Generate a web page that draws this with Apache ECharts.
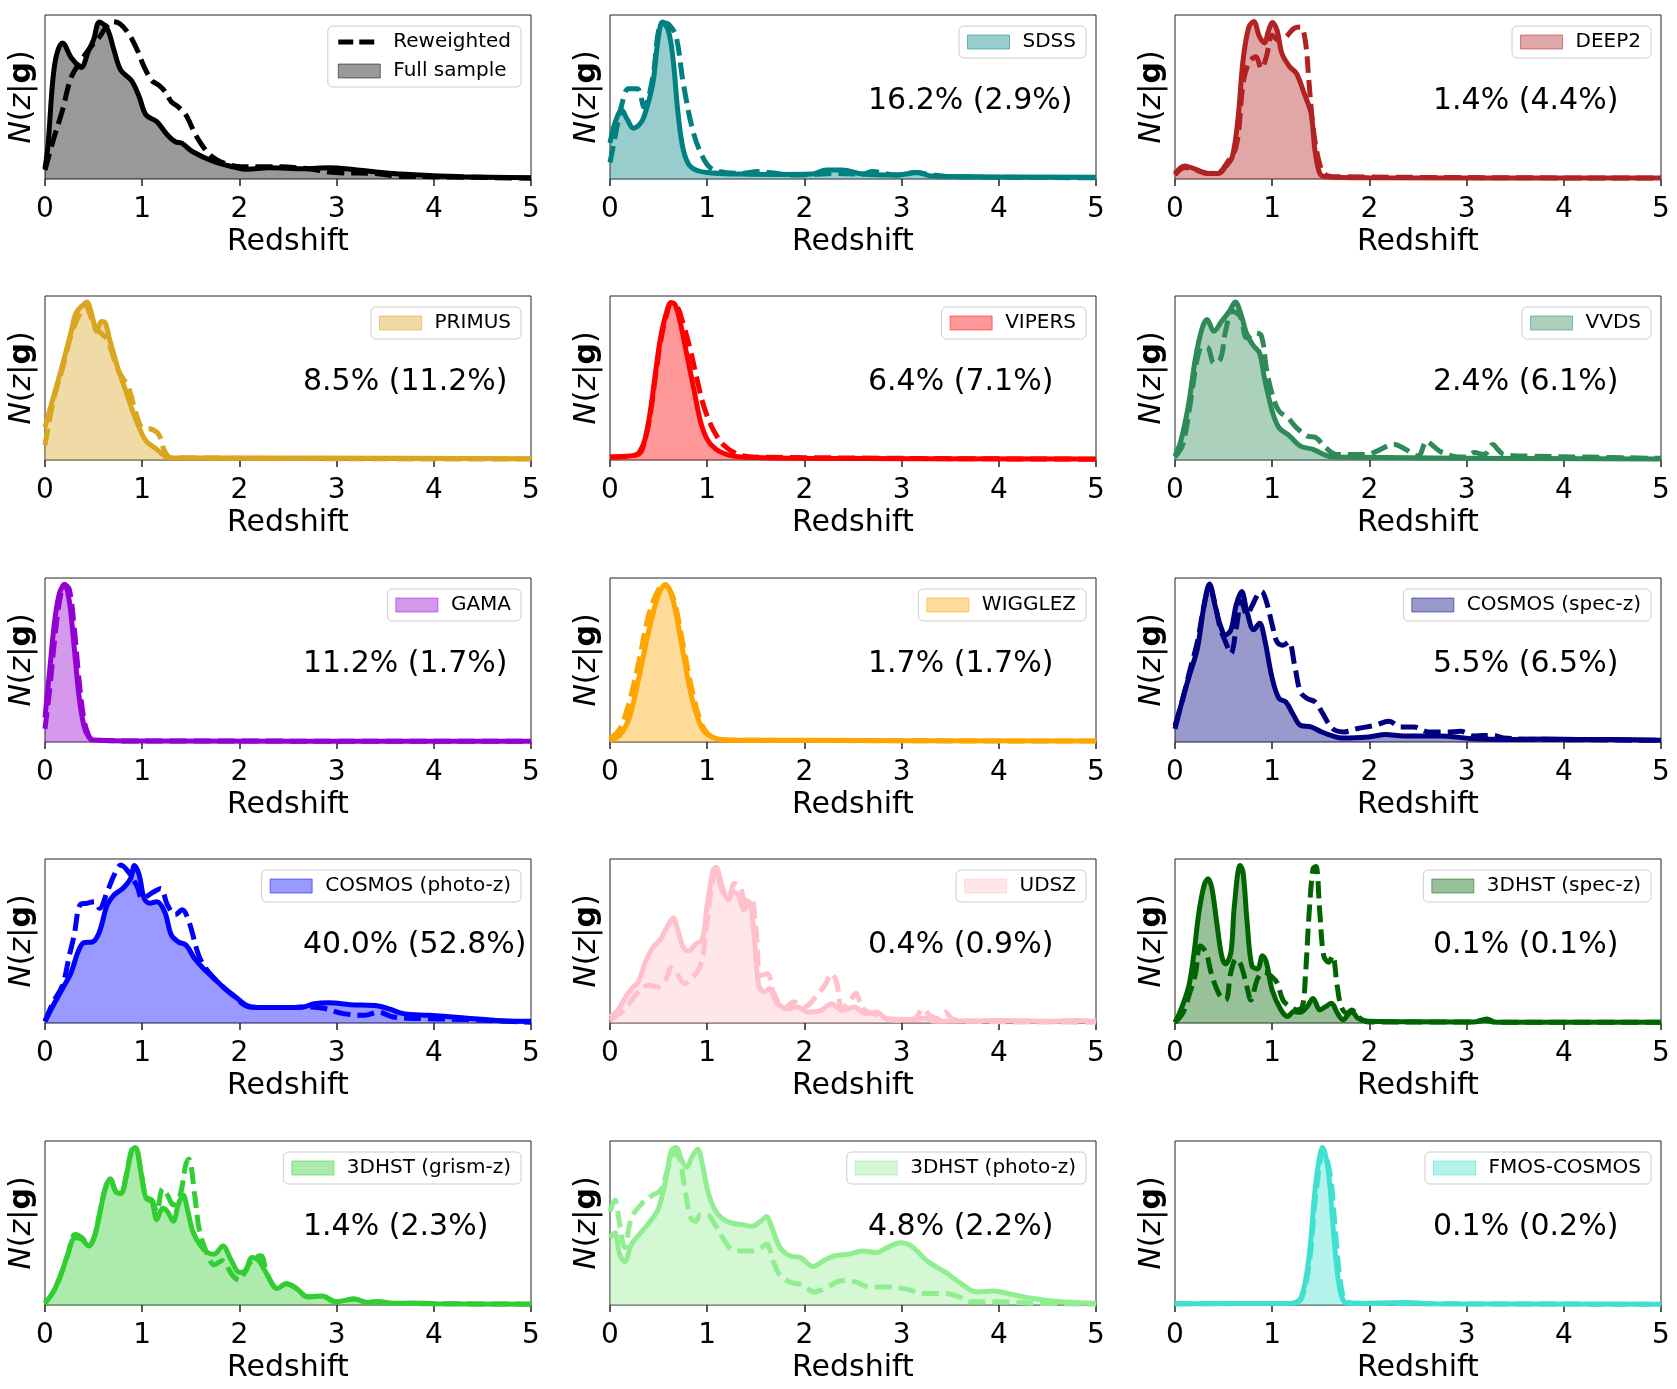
<!DOCTYPE html>
<html>
<head>
<meta charset="utf-8">
<title>N(z|g) per survey</title>
<script src="https://cdn.jsdelivr.net/npm/echarts@6/dist/echarts.min.js"></script>
<style>
  html, body { margin: 0; padding: 0; background: #fff; }
  #chart { width: 1677px; height: 1389px; }
</style>
</head>
<body>
<div id="chart"></div>
<script>
// panel labels, in reading order
const surveyNames = ['Full sample', 'SDSS', 'DEEP2', 'PRIMUS', 'VIPERS', 'VVDS', 'GAMA', 'WIGGLEZ',
  'COSMOS (spec-z)', 'COSMOS (photo-z)', 'UDSZ', '3DHST (spec-z)', '3DHST (grism-z)', '3DHST (photo-z)', 'FMOS-COSMOS'];
const percentLabels = ['', '16.2% (2.9%)', '1.4% (4.4%)', '8.5% (11.2%)', '6.4% (7.1%)', '2.4% (6.1%)',
  '11.2% (1.7%)', '1.7% (1.7%)', '5.5% (6.5%)', '40.0% (52.8%)', '0.4% (0.9%)', '0.1% (0.1%)',
  '1.4% (2.3%)', '4.8% (2.2%)', '0.1% (0.2%)'];
const xTickLabels = ['0', '1', '2', '3', '4', '5'];

// [redshift, N(z|g) as fraction of panel height]; solid = sample, dashed = reweighted
const fullSolid = [[0,0.065],[0.03,0.2],[0.08,0.6],[0.12,0.76],[0.18,0.83],[0.27,0.74],[0.37,0.68],[0.45,0.785],[0.5,0.85],[0.56,0.957],[0.64,0.917],[0.71,0.785],[0.78,0.663],[0.89,0.6],[0.97,0.5],[1.04,0.39],[1.15,0.35],[1.26,0.268],[1.34,0.227],[1.41,0.217],[1.52,0.166],[1.74,0.105],[1.93,0.075],[2.08,0.059],[2.3,0.069],[2.66,0.063],[2.92,0.069],[3.21,0.055],[3.58,0.034],[3.95,0.022],[4.31,0.014],[5,0.008]];
const fullDashed = [[0,0.055],[0.085,0.237],[0.18,0.42],[0.27,0.62],[0.38,0.73],[0.47,0.805],[0.56,0.866],[0.64,0.937],[0.69,0.96],[0.77,0.947],[0.86,0.886],[0.95,0.785],[1.02,0.684],[1.1,0.6],[1.17,0.572],[1.24,0.53],[1.3,0.47],[1.37,0.44],[1.45,0.39],[1.56,0.258],[1.7,0.146],[1.85,0.095],[2.03,0.075],[2.3,0.075],[2.66,0.065],[2.99,0.039],[3.4,0.034],[3.62,0.018],[4.0,0.014],[5,0.005]];

const sdssSolid = [[0,0.22],[0.05,0.34],[0.12,0.42],[0.18,0.36],[0.24,0.31],[0.3,0.33],[0.35,0.38],[0.44,0.58],[0.49,0.83],[0.54,0.957],[0.6,0.907],[0.65,0.724],[0.7,0.4],[0.755,0.176],[0.83,0.075],[1.0,0.039],[1.36,0.03],[1.71,0.028],[2.07,0.03],[2.23,0.055],[2.39,0.055],[2.6,0.03],[2.95,0.024],[3.17,0.039],[3.31,0.018],[3.84,0.014],[5,0.01]];
const sdssDashed = [[0,0.1],[0.05,0.25],[0.12,0.45],[0.19,0.55],[0.28,0.55],[0.35,0.44],[0.44,0.62],[0.5,0.907],[0.55,0.953],[0.61,0.94],[0.68,0.87],[0.755,0.58],[0.86,0.278],[0.97,0.116],[1.07,0.055],[1.36,0.034],[1.52,0.045],[1.89,0.024],[2.17,0.03],[2.28,0.034],[2.6,0.03],[2.7,0.045],[2.95,0.024],[3.13,0.039],[3.27,0.03],[3.49,0.014],[5,0.008]];

const deep2Solid = [[0,0.034],[0.1,0.08],[0.19,0.065],[0.34,0.034],[0.45,0.034],[0.52,0.075],[0.59,0.136],[0.65,0.38],[0.7,0.724],[0.76,0.927],[0.81,0.96],[0.87,0.866],[0.92,0.83],[0.96,0.9],[1.0,0.955],[1.05,0.907],[1.1,0.765],[1.18,0.684],[1.25,0.643],[1.33,0.52],[1.4,0.4],[1.44,0.176],[1.49,0.034],[1.55,0.014],[2.0,0.008],[5,0.006]];
const deep2Dashed = [[0,0.024],[0.1,0.07],[0.19,0.06],[0.34,0.034],[0.45,0.04],[0.52,0.085],[0.63,0.2],[0.7,0.58],[0.76,0.71],[0.83,0.745],[0.89,0.673],[0.94,0.745],[1.0,0.876],[1.07,0.846],[1.14,0.866],[1.22,0.917],[1.29,0.927],[1.34,0.846],[1.38,0.58],[1.42,0.318],[1.47,0.136],[1.53,0.034],[1.62,0.014],[5,0.006]];

const primusSolid = [[0,0.2],[0.085,0.38],[0.18,0.58],[0.27,0.785],[0.32,0.897],[0.4,0.95],[0.43,0.963],[0.49,0.866],[0.53,0.785],[0.58,0.845],[0.62,0.835],[0.67,0.724],[0.75,0.56],[0.82,0.44],[0.89,0.318],[0.97,0.197],[1.04,0.116],[1.15,0.065],[1.23,0.024],[1.3,0.014],[2.7,0.012],[5,0.008]];
const primusDashed = [[0,0.09],[0.085,0.36],[0.18,0.56],[0.27,0.765],[0.35,0.88],[0.42,0.937],[0.47,0.876],[0.55,0.79],[0.64,0.734],[0.75,0.55],[0.86,0.44],[0.93,0.298],[1.0,0.197],[1.1,0.187],[1.17,0.156],[1.23,0.055],[1.3,0.014],[5,0.006]];

const vipersSolid = [[0,0.018],[0.26,0.03],[0.31,0.055],[0.365,0.136],[0.42,0.318],[0.47,0.54],[0.52,0.744],[0.58,0.897],[0.63,0.96],[0.67,0.947],[0.72,0.846],[0.79,0.643],[0.86,0.44],[0.93,0.237],[1.0,0.126],[1.09,0.065],[1.22,0.03],[1.36,0.018],[2,0.01],[5,0.006]];
const vipersDashed = [[0,0.018],[0.29,0.034],[0.365,0.136],[0.42,0.3],[0.47,0.52],[0.52,0.72],[0.58,0.88],[0.63,0.953],[0.69,0.937],[0.755,0.826],[0.83,0.663],[0.9,0.48],[0.97,0.318],[1.07,0.176],[1.18,0.085],[1.32,0.034],[1.46,0.018],[5,0.005]];

const vvdsSolid = [[0,0.024],[0.06,0.116],[0.14,0.34],[0.21,0.62],[0.28,0.805],[0.33,0.856],[0.4,0.785],[0.48,0.846],[0.56,0.907],[0.62,0.963],[0.68,0.886],[0.74,0.765],[0.81,0.694],[0.87,0.653],[0.92,0.5],[1.0,0.298],[1.07,0.197],[1.18,0.146],[1.29,0.085],[1.42,0.065],[1.53,0.034],[1.62,0.018],[5,0.006]];
const vvdsDashed = [[0,0.018],[0.08,0.095],[0.15,0.318],[0.23,0.62],[0.28,0.69],[0.34,0.684],[0.4,0.59],[0.47,0.62],[0.52,0.785],[0.59,0.907],[0.67,0.876],[0.74,0.745],[0.83,0.775],[0.89,0.755],[0.94,0.56],[1.0,0.4],[1.07,0.298],[1.16,0.258],[1.25,0.197],[1.36,0.146],[1.45,0.136],[1.55,0.075],[1.66,0.034],[1.99,0.034],[2.06,0.05],[2.26,0.095],[2.37,0.065],[2.5,0.024],[2.59,0.116],[2.64,0.095],[2.72,0.055],[2.86,0.024],[2.99,0.018],[3.08,0.045],[3.18,0.034],[3.27,0.095],[3.32,0.065],[3.38,0.034],[3.63,0.024],[4.18,0.018],[5,0.01]];

const gamaSolid = [[0,0.15],[0.05,0.45],[0.1,0.74],[0.15,0.91],[0.2,0.96],[0.25,0.86],[0.3,0.58],[0.35,0.28],[0.4,0.1],[0.45,0.03],[0.5,0.012],[1,0.006],[5,0.005]];
const gamaDashed = [[0,0.08],[0.05,0.33],[0.1,0.63],[0.15,0.86],[0.2,0.96],[0.25,0.93],[0.3,0.7],[0.35,0.38],[0.4,0.14],[0.45,0.04],[0.5,0.012],[1,0.006],[5,0.005]];

const wigglezSolid = [[0,0.01],[0.1,0.04],[0.2,0.15],[0.3,0.4],[0.4,0.68],[0.5,0.9],[0.57,0.96],[0.65,0.86],[0.75,0.55],[0.85,0.25],[0.95,0.08],[1.05,0.03],[1.2,0.012],[2,0.01],[5,0.006]];
const wigglezDashed = [[0,0.02],[0.1,0.08],[0.2,0.25],[0.3,0.5],[0.4,0.78],[0.5,0.93],[0.56,0.955],[0.65,0.88],[0.75,0.6],[0.85,0.3],[0.95,0.1],[1.05,0.03],[1.2,0.012],[5,0.006]];

const cosmosSpecSolid = [[0,0.08],[0.08,0.265],[0.15,0.41],[0.23,0.57],[0.3,0.837],[0.355,0.963],[0.41,0.837],[0.465,0.714],[0.52,0.653],[0.575,0.684],[0.63,0.837],[0.685,0.918],[0.74,0.796],[0.81,0.684],[0.87,0.724],[0.92,0.633],[1.0,0.388],[1.07,0.265],[1.14,0.245],[1.22,0.163],[1.29,0.102],[1.4,0.092],[1.51,0.061],[1.62,0.037],[1.73,0.024],[1.99,0.031],[2.17,0.045],[2.35,0.037],[2.72,0.037],[3.08,0.02],[3.45,0.016],[3.82,0.018],[4.18,0.016],[4.55,0.016],[5,0.01]];
const cosmosSpecDashed = [[0,0.1],[0.08,0.265],[0.15,0.43],[0.23,0.61],[0.3,0.837],[0.355,0.95],[0.41,0.847],[0.465,0.694],[0.52,0.61],[0.575,0.54],[0.63,0.694],[0.685,0.857],[0.74,0.776],[0.79,0.827],[0.85,0.898],[0.89,0.918],[0.94,0.857],[1.0,0.714],[1.05,0.61],[1.11,0.59],[1.17,0.61],[1.23,0.47],[1.29,0.306],[1.36,0.265],[1.44,0.245],[1.51,0.184],[1.62,0.082],[1.73,0.061],[1.88,0.082],[2.06,0.102],[2.2,0.127],[2.32,0.092],[2.46,0.092],[2.61,0.061],[2.79,0.061],[2.94,0.065],[3.08,0.037],[3.27,0.041],[3.38,0.024],[3.82,0.016],[5,0.01]];

const cosmosPhotSolid = [[0,0.01],[0.085,0.108],[0.18,0.21],[0.27,0.31],[0.34,0.434],[0.4,0.49],[0.49,0.495],[0.56,0.556],[0.64,0.72],[0.71,0.78],[0.8,0.82],[0.88,0.88],[0.92,0.96],[0.97,0.9],[1.02,0.76],[1.08,0.73],[1.15,0.74],[1.23,0.68],[1.3,0.536],[1.37,0.495],[1.45,0.475],[1.54,0.393],[1.63,0.332],[1.74,0.271],[1.85,0.21],[1.96,0.159],[2.07,0.108],[2.18,0.094],[2.48,0.094],[2.66,0.098],[2.77,0.118],[2.92,0.124],[3.14,0.112],[3.43,0.104],[3.55,0.084],[3.69,0.057],[3.95,0.047],[4.32,0.031],[4.69,0.014],[5,0.01]];
const cosmosPhotDashed = [[0,0.01],[0.085,0.128],[0.18,0.23],[0.25,0.41],[0.3,0.535],[0.36,0.72],[0.43,0.73],[0.51,0.74],[0.56,0.7],[0.64,0.8],[0.71,0.9],[0.78,0.963],[0.86,0.92],[0.95,0.83],[1.0,0.76],[1.12,0.8],[1.19,0.82],[1.26,0.72],[1.34,0.66],[1.41,0.69],[1.48,0.62],[1.58,0.414],[1.67,0.32],[1.78,0.25],[1.93,0.17],[2.11,0.098],[2.48,0.094],[2.74,0.098],[2.88,0.088],[3.07,0.057],[3.29,0.047],[3.43,0.067],[3.58,0.037],[3.95,0.026],[4.32,0.022],[4.69,0.012],[5,0.005]];

const udszSolid = [[0,0.037],[0.08,0.077],[0.15,0.148],[0.22,0.209],[0.29,0.25],[0.37,0.38],[0.44,0.46],[0.52,0.51],[0.6,0.6],[0.65,0.64],[0.7,0.56],[0.755,0.46],[0.81,0.44],[0.88,0.48],[0.95,0.51],[1.0,0.72],[1.06,0.93],[1.09,0.95],[1.15,0.84],[1.22,0.75],[1.27,0.8],[1.32,0.78],[1.38,0.69],[1.43,0.74],[1.48,0.55],[1.53,0.23],[1.59,0.19],[1.64,0.21],[1.71,0.128],[1.82,0.087],[1.93,0.097],[2.03,0.067],[2.17,0.077],[2.28,0.118],[2.39,0.077],[2.51,0.097],[2.63,0.057],[2.74,0.067],[2.85,0.026],[3.13,0.022],[3.24,0.03],[3.34,0.01],[4.02,0.016],[4.55,0.01],[4.8,0.016],[5,0.01]];
const udszDashed = [[0,0.016],[0.12,0.067],[0.21,0.128],[0.29,0.19],[0.4,0.23],[0.49,0.22],[0.58,0.27],[0.63,0.34],[0.68,0.31],[0.77,0.24],[0.84,0.27],[0.93,0.35],[0.99,0.57],[1.04,0.81],[1.09,0.94],[1.15,0.81],[1.22,0.77],[1.28,0.85],[1.34,0.83],[1.39,0.74],[1.45,0.76],[1.5,0.59],[1.55,0.29],[1.62,0.3],[1.68,0.19],[1.79,0.087],[1.89,0.128],[2.0,0.097],[2.1,0.148],[2.21,0.23],[2.28,0.3],[2.33,0.25],[2.39,0.087],[2.48,0.148],[2.53,0.18],[2.6,0.087],[2.71,0.057],[2.95,0.016],[3.13,0.026],[3.22,0.087],[3.29,0.047],[3.38,0.026],[3.45,0.067],[3.52,0.026],[3.66,0.01],[5,0.005]];

const dhstSpecSolid = [[0,0.004],[0.06,0.08],[0.14,0.22],[0.19,0.4],[0.245,0.67],[0.3,0.84],[0.34,0.88],[0.38,0.82],[0.43,0.61],[0.48,0.41],[0.52,0.36],[0.575,0.43],[0.61,0.71],[0.67,0.96],[0.7,0.92],[0.74,0.63],[0.79,0.35],[0.85,0.33],[0.9,0.41],[0.94,0.37],[1.0,0.2],[1.09,0.08],[1.16,0.04],[1.22,0.07],[1.29,0.065],[1.36,0.1],[1.42,0.15],[1.49,0.08],[1.55,0.1],[1.61,0.12],[1.67,0.06],[1.73,0.02],[1.78,0.05],[1.82,0.07],[1.88,0.03],[1.99,0.01],[3.08,0.006],[3.21,0.025],[3.3,0.004],[5,0.004]];
const dhstSpecDashed = [[0,0.004],[0.08,0.06],[0.15,0.18],[0.21,0.3],[0.26,0.47],[0.32,0.43],[0.37,0.31],[0.45,0.18],[0.52,0.14],[0.575,0.31],[0.63,0.39],[0.68,0.35],[0.74,0.22],[0.78,0.14],[0.85,0.27],[0.92,0.31],[1.0,0.28],[1.05,0.245],[1.11,0.14],[1.18,0.1],[1.25,0.08],[1.31,0.1],[1.34,0.27],[1.38,0.67],[1.42,0.94],[1.45,0.955],[1.49,0.67],[1.53,0.41],[1.58,0.37],[1.62,0.41],[1.67,0.22],[1.71,0.1],[1.77,0.06],[1.82,0.08],[1.88,0.04],[1.99,0.006],[3.08,0.006],[3.19,0.016],[3.3,0.004],[5,0.004]];

const dhstGrismSolid = [[0,0.01],[0.085,0.08],[0.16,0.18],[0.23,0.3],[0.31,0.41],[0.38,0.4],[0.45,0.36],[0.51,0.42],[0.56,0.55],[0.62,0.71],[0.67,0.77],[0.73,0.69],[0.78,0.68],[0.84,0.8],[0.89,0.94],[0.93,0.96],[0.99,0.8],[1.04,0.65],[1.1,0.63],[1.15,0.52],[1.21,0.59],[1.26,0.57],[1.32,0.51],[1.37,0.61],[1.42,0.67],[1.47,0.57],[1.52,0.45],[1.59,0.37],[1.67,0.32],[1.74,0.31],[1.83,0.36],[1.91,0.28],[2.0,0.2],[2.05,0.2],[2.13,0.29],[2.2,0.27],[2.29,0.18],[2.39,0.1],[2.48,0.13],[2.59,0.1],[2.7,0.05],[2.85,0.055],[2.99,0.02],[3.18,0.036],[3.32,0.016],[3.43,0.02],[3.58,0.01],[3.77,0.012],[4,0.008],[5,0.005]];
const dhstGrismDashed = [[0,0.01],[0.085,0.08],[0.16,0.18],[0.23,0.3],[0.31,0.43],[0.38,0.41],[0.45,0.36],[0.51,0.42],[0.56,0.55],[0.62,0.71],[0.67,0.77],[0.73,0.69],[0.78,0.68],[0.84,0.8],[0.89,0.94],[0.93,0.96],[0.99,0.8],[1.04,0.66],[1.1,0.64],[1.15,0.57],[1.21,0.71],[1.26,0.67],[1.32,0.61],[1.39,0.67],[1.45,0.86],[1.48,0.89],[1.54,0.67],[1.59,0.45],[1.67,0.31],[1.74,0.245],[1.82,0.27],[1.93,0.18],[2.0,0.15],[2.07,0.22],[2.14,0.28],[2.22,0.3],[2.29,0.18],[2.39,0.1],[2.48,0.13],[2.59,0.1],[2.7,0.05],[2.85,0.055],[2.99,0.02],[3.18,0.036],[3.32,0.016],[3.43,0.02],[3.58,0.01],[4,0.008],[5,0.005]];

const dhstPhotSolid = [[0,0.41],[0.05,0.44],[0.1,0.31],[0.15,0.265],[0.22,0.37],[0.33,0.45],[0.44,0.53],[0.5,0.59],[0.58,0.78],[0.63,0.94],[0.68,0.96],[0.74,0.88],[0.79,0.84],[0.84,0.9],[0.9,0.95],[0.95,0.86],[1.0,0.71],[1.07,0.59],[1.15,0.53],[1.25,0.5],[1.36,0.49],[1.46,0.48],[1.55,0.51],[1.61,0.54],[1.66,0.48],[1.75,0.35],[1.85,0.3],[1.96,0.29],[2.09,0.235],[2.21,0.275],[2.32,0.3],[2.46,0.31],[2.6,0.33],[2.74,0.32],[2.85,0.35],[2.99,0.38],[3.1,0.36],[3.27,0.265],[3.45,0.2],[3.59,0.14],[3.77,0.08],[3.95,0.085],[4.09,0.07],[4.3,0.045],[4.55,0.025],[4.8,0.015],[5,0.01]];
const dhstPhotDashed = [[0,0.57],[0.05,0.64],[0.1,0.49],[0.15,0.35],[0.22,0.53],[0.33,0.62],[0.44,0.67],[0.52,0.7],[0.6,0.84],[0.67,0.93],[0.72,0.88],[0.77,0.71],[0.83,0.53],[0.88,0.51],[0.93,0.55],[1.0,0.55],[1.07,0.5],[1.16,0.41],[1.25,0.34],[1.36,0.33],[1.46,0.33],[1.55,0.35],[1.61,0.37],[1.68,0.265],[1.75,0.18],[1.85,0.14],[1.99,0.12],[2.1,0.08],[2.21,0.1],[2.39,0.15],[2.53,0.14],[2.67,0.11],[2.85,0.11],[3.03,0.1],[3.24,0.07],[3.45,0.07],[3.59,0.05],[3.7,0.02],[4.02,0.02],[4.37,0.01],[5,0.005]];

const fmosSolid = [[0,0.008],[1.2,0.01],[1.3,0.05],[1.38,0.3],[1.45,0.75],[1.52,0.96],[1.58,0.8],[1.63,0.45],[1.68,0.15],[1.73,0.03],[1.8,0.01],[2.4,0.015],[2.6,0.008],[5,0.005]];
const fmosDashed = [[0,0.008],[1.2,0.01],[1.3,0.04],[1.38,0.25],[1.45,0.68],[1.53,0.94],[1.6,0.78],[1.65,0.45],[1.7,0.15],[1.75,0.03],[1.85,0.01],[5,0.005]];

const solidCurves = [fullSolid, sdssSolid, deep2Solid, primusSolid, vipersSolid, vvdsSolid, gamaSolid, wigglezSolid,
  cosmosSpecSolid, cosmosPhotSolid, udszSolid, dhstSpecSolid, dhstGrismSolid, dhstPhotSolid, fmosSolid];
const dashedCurves = [fullDashed, sdssDashed, deep2Dashed, primusDashed, vipersDashed, vvdsDashed, gamaDashed, wigglezDashed,
  cosmosSpecDashed, cosmosPhotDashed, udszDashed, dhstSpecDashed, dhstGrismDashed, dhstPhotDashed, fmosDashed];

// styling
const colors = ['#000000', '#008080', '#b22222', '#daa520', '#ff0000', '#2e8b57', '#9400d3', '#ffa500',
  '#000080', '#0000ff', '#ffc0cb', '#006400', '#32cd32', '#90ee90', '#40e0d0'];
const FONT = 'DejaVu Sans';
const colLeft = [45, 610, 1175];
const rowTop = [15, 296, 578, 859, 1141];
const W = 486, H = 164, PAGE_W = 1677;
const LW = 5, DASH = [17, 7];

function rgba(hex, a) {
  const n = parseInt(hex.slice(1), 16);
  return 'rgba(' + (n >> 16) + ',' + ((n >> 8) & 255) + ',' + (n & 255) + ',' + a + ')';
}

const grids = [], xAxes = [], yAxes = [], series = [], legends = [], texts = [];

surveyNames.forEach((name, i) => {
  const left = colLeft[i % 3], top = rowTop[Math.floor(i / 3)];
  const c = colors[i];
  const dashName = i === 0 ? 'Reweighted' : name + ' (reweighted)';

  grids.push({ left: left, top: top, width: W, height: H, show: true, borderColor: '#222', borderWidth: 1 });

  xAxes.push({
    gridIndex: i, type: 'value', min: 0, max: 5, interval: 1,
    name: 'Redshift', nameLocation: 'middle', nameGap: 48,
    nameTextStyle: { fontSize: 30, fontFamily: FONT, color: '#000' },
    axisLine: { show: false },
    axisTick: { show: true, length: 7, lineStyle: { color: '#222', width: 1.5 } },
    axisLabel: { fontSize: 28, fontFamily: FONT, color: '#000', margin: 17,
      formatter: v => xTickLabels[Math.round(v)] },
    splitLine: { show: false }
  });

  yAxes.push({
    gridIndex: i, type: 'value', min: 0, max: 1,
    axisLine: { show: false }, axisTick: { show: false }, axisLabel: { show: false }, splitLine: { show: false },
    name: '{i|N}({i|z}|{b|g})', nameLocation: 'middle', nameGap: 8, nameRotate: 90,
    nameTextStyle: {
      fontSize: 30, fontFamily: FONT, color: '#000',
      rich: {
        i: { fontSize: 30, fontFamily: FONT, fontStyle: 'italic', color: '#000' },
        b: { fontSize: 30, fontFamily: FONT, fontWeight: 'bold', color: '#000' }
      }
    }
  });

  series.push({
    type: 'line', name: name, xAxisIndex: i, yAxisIndex: i, data: solidCurves[i],
    smooth: 0.35, symbol: 'none', z: 2,
    lineStyle: { color: c, width: LW }, itemStyle: { color: c },
    areaStyle: { color: c, opacity: 0.4 }
  });
  series.push({
    type: 'line', name: dashName, xAxisIndex: i, yAxisIndex: i, data: dashedCurves[i],
    smooth: 0.35, symbol: 'none', z: 3,
    lineStyle: { color: c, width: LW, type: DASH }, itemStyle: { color: c }
  });

  const patch = { name: name, icon: 'rect',
    itemStyle: { color: rgba(c, 0.4), borderColor: rgba(c, 0.5), borderWidth: 1 } };
  const legendData = i === 0
    ? [{ name: 'Reweighted', itemStyle: { color: 'rgba(0,0,0,0)', borderWidth: 0 },
         lineStyle: { color: c, width: LW, type: [15, 6] } }, patch]
    : [patch];
  legends.push({
    data: legendData, orient: 'vertical', selectedMode: false,
    right: PAGE_W - (left + W) + 10, top: top + 11,
    backgroundColor: 'rgba(255,255,255,0.8)', borderColor: '#cccccc', borderWidth: 1, borderRadius: 5,
    padding: [6, 10, 6, 8], itemWidth: 42, itemHeight: 14, itemGap: 9,
    lineStyle: { width: LW, type: [15, 6] },
    textStyle: { fontSize: 20, fontFamily: FONT, color: '#000', padding: [0, 0, 0, 8] }
  });

  if (percentLabels[i]) {
    texts.push({
      type: 'text', x: left + 258, y: top + 86, z: 10,
      style: { text: percentLabels[i], fontSize: 30, fontFamily: FONT, fill: '#000',
        align: 'left', verticalAlign: 'middle' }
    });
  }
});

const chart = echarts.init(document.getElementById('chart'));
chart.setOption({
  animation: false,
  backgroundColor: '#fff',
  grid: grids,
  xAxis: xAxes,
  yAxis: yAxes,
  legend: legends,
  series: series,
  graphic: texts
});
</script>
</body>
</html>
